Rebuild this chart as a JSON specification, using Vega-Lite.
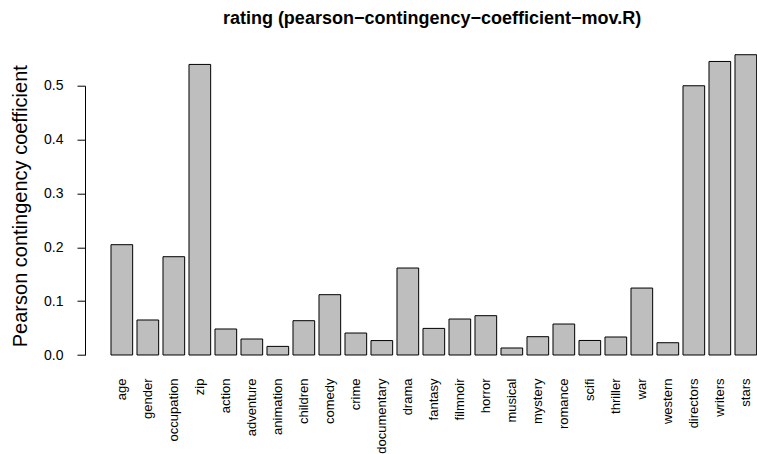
{
  "$schema": "https://vega.github.io/schema/vega-lite/v6.json",
  "width": 672,
  "height": 324.3,
  "autosize": {"type": "none"},
  "padding": {"left": 85, "top": 42.7, "right": 0, "bottom": 87},
  "background": "white",
  "title": {
    "text": "rating (pearson−contingency−coefficient−mov.R)",
    "font": "Liberation Sans",
    "fontSize": 18,
    "fontWeight": "bold",
    "color": "black",
    "anchor": "middle",
    "frame": "group",
    "baseline": "alphabetic",
    "offset": 1,
    "dx": 11
  },
  "data": {
    "values": [
      {"variable": "age", "value": 0.2048},
      {"variable": "gender", "value": 0.065},
      {"variable": "occupation", "value": 0.1825},
      {"variable": "zip", "value": 0.5395},
      {"variable": "action", "value": 0.0483},
      {"variable": "adventure", "value": 0.0297},
      {"variable": "animation", "value": 0.016},
      {"variable": "children", "value": 0.0637},
      {"variable": "comedy", "value": 0.112},
      {"variable": "crime", "value": 0.0408},
      {"variable": "documentary", "value": 0.0268},
      {"variable": "drama", "value": 0.1615},
      {"variable": "fantasy", "value": 0.0494},
      {"variable": "filmnoir", "value": 0.0668},
      {"variable": "horror", "value": 0.073},
      {"variable": "musical", "value": 0.013},
      {"variable": "mystery", "value": 0.034},
      {"variable": "romance", "value": 0.0575},
      {"variable": "scifi", "value": 0.027},
      {"variable": "thriller", "value": 0.0334},
      {"variable": "war", "value": 0.1243},
      {"variable": "western", "value": 0.0228},
      {"variable": "directors", "value": 0.4999},
      {"variable": "writers", "value": 0.545},
      {"variable": "stars", "value": 0.5575}
    ]
  },
  "mark": {"type": "bar", "fill": "#BEBEBE", "stroke": "black", "strokeWidth": 1},
  "encoding": {
    "x": {
      "field": "variable",
      "type": "nominal",
      "sort": null,
      "scale": {"paddingInner": 0.1667, "paddingOuter": 0.5064, "align": 0.987},
      "axis": {
        "title": null,
        "domain": false,
        "ticks": false,
        "tickSize": 0,
        "labelAngle": -90,
        "labelAlign": "right",
        "labelBaseline": "middle",
        "labelPadding": 11,
        "labelFont": "Liberation Sans",
        "labelFontSize": 13,
        "labelColor": "black",
        "labelOverlap": false,
        "labelLimit": 0
      }
    },
    "y": {
      "field": "value",
      "type": "quantitative",
      "scale": {"domain": [0, 0.5], "range": [312.3, 43], "nice": false, "zero": false, "clamp": false},
      "axis": {
        "title": "Pearson contingency coefficient",
        "values": [0, 0.1, 0.2, 0.3, 0.4, 0.5],
        "format": ".1f",
        "grid": false,
        "domainColor": "black",
        "domainWidth": 1,
        "tickColor": "black",
        "tickWidth": 1,
        "tickSize": 8,
        "labelPadding": 14,
        "labelFont": "Liberation Sans",
        "labelFontSize": 14,
        "labelColor": "black",
        "titleFont": "Liberation Sans",
        "titleFontSize": 20,
        "titleFontWeight": "normal",
        "titleColor": "black",
        "titlePadding": 13,
        "titleY": 163
      }
    }
  },
  "config": {"view": {"stroke": null}}
}
